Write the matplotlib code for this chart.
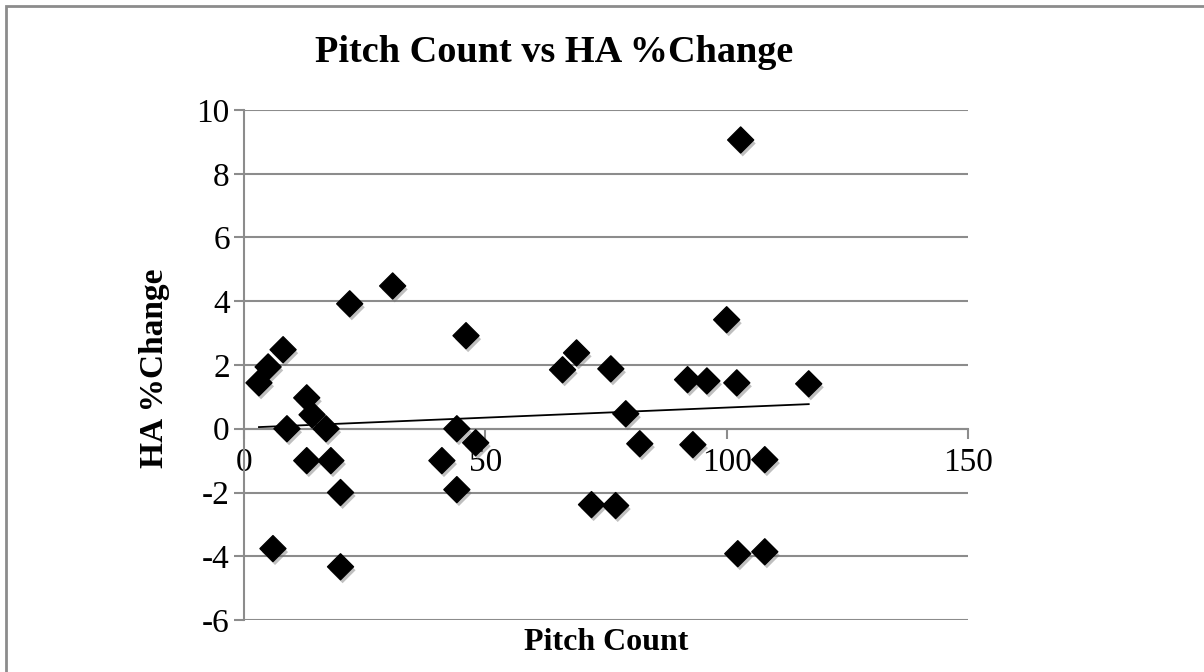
import numpy as np
import matplotlib
matplotlib.use("Agg")
import matplotlib.pyplot as plt
import matplotlib.patheffects as pe
from matplotlib.patches import Rectangle

pitch_count = [3.1, 5.0, 8.1, 21.9, 30.8, 46.0, 13.0, 14.1, 8.9, 17.0, 44.1, 48.0,
               13.0, 18.0, 20.0, 6.0, 20.0, 41.0, 44.1, 66.0, 68.9, 76.0, 79.1, 82.0,
               91.9, 95.9, 100.0, 102.1, 117.0, 93.0, 107.9, 102.9, 72.0, 77.0, 102.3, 107.9]
ha_change = [1.44, 1.94, 2.48, 3.92, 4.48, 2.92, 0.97, 0.44, 0.0, 0.0, 0.0, -0.44,
             -1.0, -1.0, -2.0, -3.76, -4.33, -1.0, -1.91, 1.85, 2.38, 1.88, 0.47, -0.47,
             1.54, 1.50, 3.42, 1.44, 1.41, -0.50, -0.97, 9.06, -2.38, -2.41, -3.92, -3.86]
x_ticks = [0, 50, 100, 150]
y_ticks = [-6, -4, -2, 0, 2, 4, 6, 8, 10]

plt.rcParams["font.family"] = ["Liberation Serif", "DejaVu Serif"]
plt.rcParams["axes.unicode_minus"] = False
gray = "#8c8c8c"

W, H = 1204, 672
fig = plt.figure(figsize=(W / 100, H / 100), dpi=100)
ax = fig.add_axes([244 / W, 1 - 620 / H, (968 - 244) / W, (620 - 110) / H])

# chart border
fig.patches.append(Rectangle((6 / W, -0.1), 1.2, 1 - 6 / H + 0.1, transform=fig.transFigure,
                             fill=False, edgecolor=gray, linewidth=2))

x = np.array(pitch_count)
y = np.array(ha_change)
ax.scatter(x, y, marker="D", s=175, color="black", zorder=4,
           path_effects=[pe.SimplePatchShadow(offset=(1.5, -2.5), shadow_rgbFace="0.45", alpha=0.45),
                         pe.Normal()])

# linear trendline
k, b = np.polyfit(x, y, 1)
xs = np.array([x.min(), x.max()])
ax.plot(xs, k * xs + b, color="black", linewidth=1.3, zorder=3)

ax.set_xlim(0, 150)
ax.set_ylim(-6, 10)
ax.set_xticks(x_ticks)
ax.set_yticks(y_ticks)
ax.yaxis.grid(True, color=gray, linewidth=1.5)
ax.set_axisbelow(True)

ax.spines["top"].set_visible(False)
ax.spines["right"].set_visible(False)
ax.spines["bottom"].set_position(("data", 0))
for s in ["left", "bottom"]:
    ax.spines[s].set_color(gray)
    ax.spines[s].set_linewidth(1.5)

ax.tick_params(axis="both", direction="out", length=7.2, width=1.5, color=gray,
               labelsize=24)
ax.tick_params(axis="y", pad=3)
ax.tick_params(axis="x", pad=6)

fig.text(554 / W, 1 - 52 / H, "Pitch Count vs HA %Change", ha="center", va="center",
         fontsize=27.5, fontweight="bold")
fig.text(155 / W, 1 - 368 / H, "HA %Change", ha="center", va="center", rotation=90,
         fontsize=24, fontweight="bold")
fig.text(606 / W, 1 - 642 / H, "Pitch Count", ha="center", va="center",
         fontsize=23, fontweight="bold")

fig.savefig("out.png", dpi=100)
